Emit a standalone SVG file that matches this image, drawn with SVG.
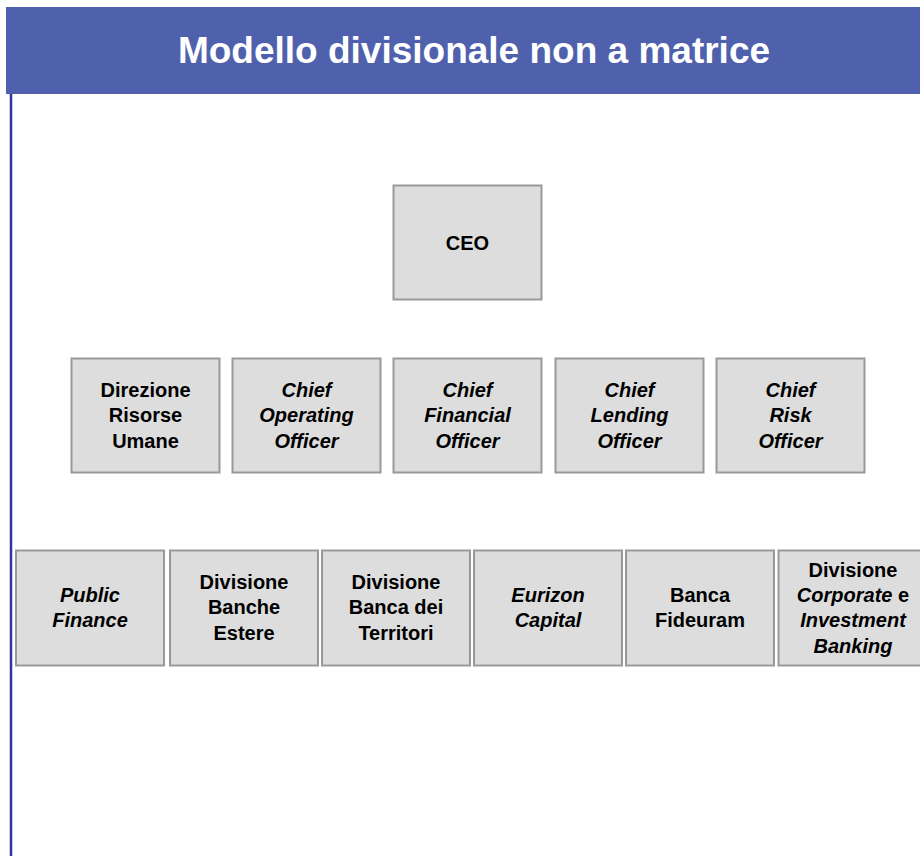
<svg xmlns="http://www.w3.org/2000/svg" width="920" height="856" viewBox="0 0 920 856">
<style>
.box{fill:#dddddd;stroke:#999999;stroke-width:2}
.t{font-family:"Liberation Sans",Arial,sans-serif;font-size:20px;font-weight:bold;fill:#000;text-anchor:middle}
.i{font-style:italic}
.title{font-family:"Liberation Sans",Arial,sans-serif;font-size:37px;font-weight:bold;fill:#fff;text-anchor:middle}
</style>
<rect x="0" y="0" width="920" height="856" fill="#ffffff"/>
<rect x="6" y="7" width="914" height="87" fill="#4f61ad"/>
<line x1="11" y1="94" x2="11" y2="856" stroke="#3333a0" stroke-width="2.5"/>
<text class="title" x="474" y="63">Modello divisionale non a matrice</text>
<g id="connectors"></g>
<g id="ceo"><rect class="box" x="393.5" y="185.5" width="148" height="114"/><text class="t" x="467.5" y="250">CEO</text></g>
<g id="hr"><rect class="box" x="71.5" y="358.5" width="148" height="114"/><text class="t" x="145.5" y="397">Direzione</text><text class="t" x="145.5" y="422">Risorse</text><text class="t" x="145.5" y="448">Umane</text></g>
<g id="coo"><rect class="box" x="232.5" y="358.5" width="148" height="114"/><text class="t i" x="306.5" y="397">Chief</text><text class="t i" x="306.5" y="422">Operating</text><text class="t i" x="306.5" y="448">Officer</text></g>
<g id="cfo"><rect class="box" x="393.5" y="358.5" width="148" height="114"/><text class="t i" x="467.5" y="397">Chief</text><text class="t i" x="467.5" y="422">Financial</text><text class="t i" x="467.5" y="448">Officer</text></g>
<g id="clo"><rect class="box" x="555.5" y="358.5" width="148" height="114"/><text class="t i" x="629.5" y="397">Chief</text><text class="t i" x="629.5" y="422">Lending</text><text class="t i" x="629.5" y="448">Officer</text></g>
<g id="cro"><rect class="box" x="716.5" y="358.5" width="148" height="114"/><text class="t i" x="790.5" y="397">Chief</text><text class="t i" x="790.5" y="422">Risk</text><text class="t i" x="790.5" y="448">Officer</text></g>
<g id="pf"><rect class="box" x="16" y="550.5" width="148" height="115"/><text class="t i" x="90" y="602">Public</text><text class="t i" x="90" y="627">Finance</text></g>
<g id="dbe"><rect class="box" x="170" y="550.5" width="148" height="115"/><text class="t" x="244" y="589">Divisione</text><text class="t" x="244" y="614">Banche</text><text class="t" x="244" y="640">Estere</text></g>
<g id="dbt"><rect class="box" x="322" y="550.5" width="148" height="115"/><text class="t" x="396" y="589">Divisione</text><text class="t" x="396" y="614">Banca dei</text><text class="t" x="396" y="640">Territori</text></g>
<g id="ec"><rect class="box" x="474" y="550.5" width="148" height="115"/><text class="t i" x="548" y="602">Eurizon</text><text class="t i" x="548" y="627">Capital</text></g>
<g id="bf"><rect class="box" x="626" y="550.5" width="148" height="115"/><text class="t" x="700" y="602">Banca</text><text class="t" x="700" y="627">Fideuram</text></g>
<g id="dcib"><rect class="box" x="778.5" y="550.5" width="150" height="115"/><text class="t" x="853" y="577">Divisione</text><text class="t" x="853" y="602"><tspan font-style="italic">Corporate</tspan> e</text><text class="t i" x="853" y="627">Investment</text><text class="t i" x="853" y="653">Banking</text></g>
</svg>
